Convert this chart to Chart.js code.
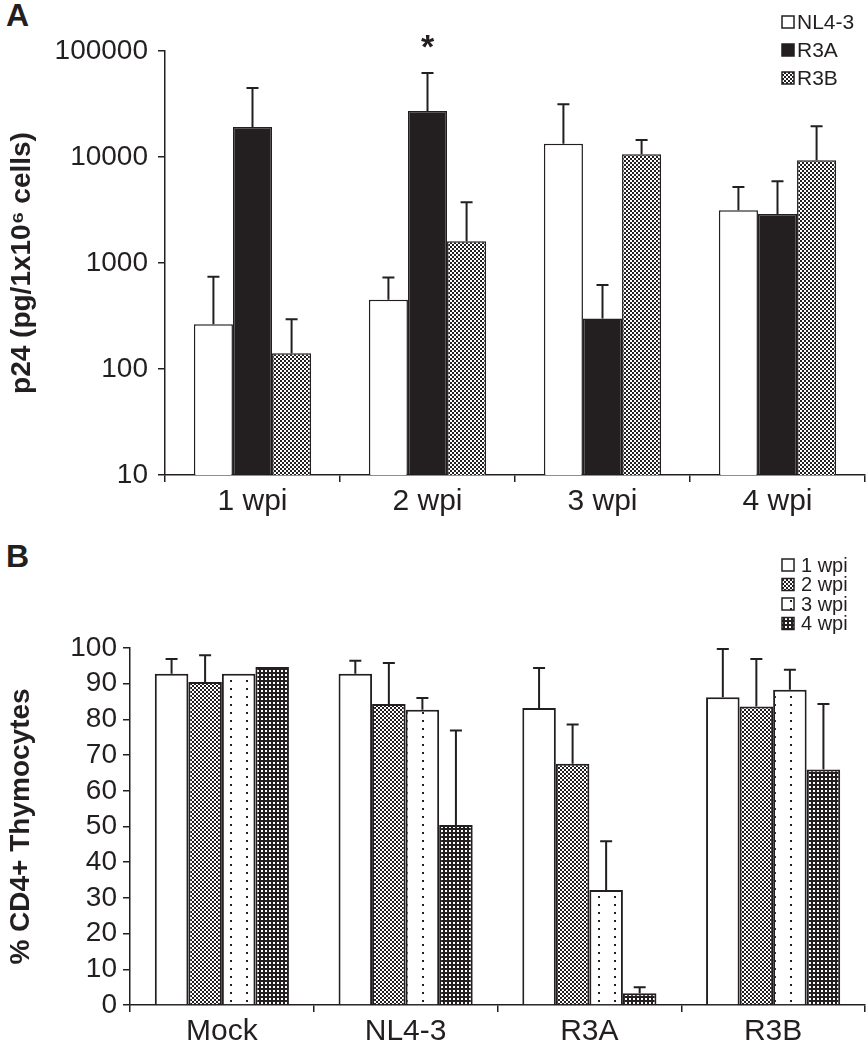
<!DOCTYPE html>
<html>
<head>
<meta charset="utf-8">
<script src="https://cdn.jsdelivr.net/npm/chart.js@4.4.1/dist/chart.umd.min.js"></script>
<style>
    body { margin: 0; background: #fff; width: 868px; height: 1050px; position: relative; overflow: hidden; font-family: "Liberation Sans", Arial, sans-serif; }
    .box { position: absolute; left: 0; width: 868px; height: 525px; }
    .tag { position: absolute; font-weight: bold; font-size: 32px; color: #231f20; }
</style>
</head>
<body>
<div class="tag" style="left:6px; top:-3px;">A</div>
<div class="tag" style="left:6px; top:538px;">B</div>
<div class="box" style="top:0"><canvas id="chartA"></canvas></div>
<div class="box" style="top:525px"><canvas id="chartB"></canvas></div>

<script>
// Panel A: p24 per 1x10^6 cells (log scale), bar value + top of error bar
const weeksA = ['1 wpi', '2 wpi', '3 wpi', '4 wpi'];
const nl43 = [265, 450, 13300, 3150];
const nl43Top = [740, 730, 31500, 5200];
const r3a = [19200, 27200, 300, 2900];
const r3aTop = [44800, 62000, 620, 5900];
const r3b = [141, 1600, 10600, 9300];
const r3bTop = [295, 3750, 14500, 19500];
const ticksA = [10, 100, 1000, 10000, 100000];

// Panel B: % CD4+ thymocytes
const virusesB = ['Mock', 'NL4-3', 'R3A', 'R3B'];
const wpi1 = [92.8, 92.8, 83.2, 86.2];
const wpi1Top = [96.9, 96.4, 94.4, 99.7];
const wpi2 = [90.5, 84.3, 67.6, 83.6];
const wpi2Top = [98.0, 95.8, 78.6, 96.9];
const wpi3 = [92.8, 82.7, 32.2, 88.3];
const wpi3Top = [null, 86.0, 45.9, 93.9];
const wpi4 = [94.7, 50.4, 3.3, 66.0];
const wpi4Top = [null, 76.9, 5.0, 84.3];

const INK = '#231f20';
const FONT = '"Liberation Sans", Arial, sans-serif';

function makePattern(w, h, draw) {
    const c = document.createElement('canvas');
    c.width = w; c.height = h;
    const g = c.getContext('2d');
    draw(g);
    return g.createPattern(c, 'repeat');
}

const checker = makePattern(4, 4, g => {
    g.fillStyle = '#fff'; g.fillRect(0, 0, 4, 4);
    g.fillStyle = INK; g.fillRect(0, 0, 2, 2); g.fillRect(2, 2, 2, 2);
});
const dots = makePattern(16, 8, g => {
    g.fillStyle = '#fff'; g.fillRect(0, 0, 16, 8);
    g.fillStyle = INK; g.fillRect(6, 3, 2, 2);
});
const darkGrid = makePattern(4, 4, g => {
    g.fillStyle = INK; g.fillRect(0, 0, 4, 4);
    g.fillStyle = '#fff'; g.fillRect(1, 1, 2, 2);
});

const errorBars = {
    id: 'errorBars',
    afterDatasetsDraw(chart) {
        const ctx = chart.ctx;
        const y = chart.scales.y;
        ctx.save();
        ctx.strokeStyle = INK;
        ctx.lineWidth = 2;
        chart.data.datasets.forEach((ds, di) => {
            const meta = chart.getDatasetMeta(di);
            meta.data.forEach((bar, i) => {
                const top = ds.errTop[i];
                if (top == null) return;
                const py = y.getPixelForValue(top);
                ctx.beginPath();
                ctx.moveTo(bar.x, bar.y);
                ctx.lineTo(bar.x, py);
                ctx.moveTo(bar.x - 6, py);
                ctx.lineTo(bar.x + 6, py);
                ctx.stroke();
            });
        });
        ctx.restore();
    }
};

const boxLegend = {
    id: 'boxLegend',
    afterDraw(chart, args, opts) {
        const ctx = chart.ctx;
        ctx.save();
        ctx.font = opts.fontSize + 'px ' + FONT;
        ctx.textBaseline = 'middle';
        chart.data.datasets.forEach((ds, i) => {
            const cy = opts.y + i * opts.step;
            ctx.fillStyle = ds.backgroundColor;
            ctx.fillRect(opts.x, cy - 6, 12, 12);
            ctx.strokeStyle = INK;
            ctx.lineWidth = 1.5;
            ctx.strokeRect(opts.x, cy - 6, 12, 12);
            ctx.fillStyle = INK;
            ctx.fillText(ds.label, opts.textX, cy + 1);
        });
        ctx.restore();
    }
};

const starMark = {
    id: 'starMark',
    afterDatasetsDraw(chart) {
        const bar = chart.getDatasetMeta(1).data[1];
        const py = chart.scales.y.getPixelForValue(r3aTop[1]);
        const ctx = chart.ctx;
        ctx.save();
        ctx.font = 'bold 34px ' + FONT;
        ctx.fillStyle = INK;
        ctx.textAlign = 'center';
        ctx.textBaseline = 'middle';
        ctx.fillText('*', bar.x, py - 24);
        ctx.restore();
    }
};

function axisX(height) {
    return {
        grid: { display: true, drawOnChartArea: false, offset: true, tickLength: 7, color: INK, lineWidth: 1.5 },
        border: { display: true, color: INK, width: 1.5 },
        ticks: { color: INK, font: { family: FONT, size: 30 }, padding: 2, maxRotation: 0 },
        afterFit: s => { s.height = height; }
    };
}

new Chart(document.getElementById('chartA'), {
    type: 'bar',
    data: {
        labels: weeksA,
        datasets: [
            { label: 'NL4-3', data: nl43, errTop: nl43Top, backgroundColor: '#fff', borderColor: INK, borderWidth: 1.5 },
            { label: 'R3A', data: r3a, errTop: r3aTop, backgroundColor: INK, borderColor: INK, borderWidth: 1.5 },
            { label: 'R3B', data: r3b, errTop: r3bTop, backgroundColor: checker, borderColor: INK, borderWidth: 1.5 }
        ]
    },
    options: {
        responsive: true,
        maintainAspectRatio: false,
        animation: false,
        layout: { padding: { top: 51, right: 3, left: 0, bottom: 0 } },
        datasets: { bar: { categoryPercentage: 0.67, barPercentage: 1.0 } },
        plugins: {
            legend: { display: false },
            tooltip: { enabled: false },
            boxLegend: { x: 782, textX: 797, y: 22, step: 28, fontSize: 21 }
        },
        scales: {
            x: axisX(50),
            y: {
                type: 'logarithmic',
                min: 10,
                max: 100000,
                afterBuildTicks: s => { s.ticks = ticksA.map(v => ({ value: v })); },
                afterFit: s => { s.width = 165; },
                grid: { display: true, drawOnChartArea: false, tickLength: 7, color: INK, lineWidth: 1.5 },
                border: { display: true, color: INK, width: 1.5 },
                ticks: { color: INK, font: { family: FONT, size: 28 }, padding: 10, autoSkip: false, callback: v => String(v) },
                title: {
                    display: true,
                    text: 'p24 (pg/1x10⁶ cells)',
                    color: INK,
                    font: { family: FONT, size: 28, weight: 'bold' },
                    padding: { top: 5, bottom: 0 }
                }
            }
        }
    },
    plugins: [errorBars, boxLegend, starMark]
});

new Chart(document.getElementById('chartB'), {
    type: 'bar',
    data: {
        labels: virusesB,
        datasets: [
            { label: '1 wpi', data: wpi1, errTop: wpi1Top, backgroundColor: '#fff', borderColor: INK, borderWidth: 2 },
            { label: '2 wpi', data: wpi2, errTop: wpi2Top, backgroundColor: checker, borderColor: INK, borderWidth: 2 },
            { label: '3 wpi', data: wpi3, errTop: wpi3Top, backgroundColor: dots, borderColor: INK, borderWidth: 2 },
            { label: '4 wpi', data: wpi4, errTop: wpi4Top, backgroundColor: darkGrid, borderColor: INK, borderWidth: 2 }
        ]
    },
    options: {
        responsive: true,
        maintainAspectRatio: false,
        animation: false,
        layout: { padding: { top: 123, right: 3, left: 0, bottom: 0 } },
        datasets: { bar: { categoryPercentage: 0.73, barPercentage: 1.0 } },
        plugins: {
            legend: { display: false },
            tooltip: { enabled: false },
            boxLegend: { x: 782, textX: 801, y: 40, step: 19.5, fontSize: 20 }
        },
        scales: {
            x: axisX(45),
            y: {
                min: 0,
                max: 100,
                afterFit: s => { s.width = 130; },
                grid: { display: true, drawOnChartArea: false, tickLength: 7, color: INK, lineWidth: 1.5 },
                border: { display: true, color: INK, width: 1.5 },
                ticks: { color: INK, font: { family: FONT, size: 28 }, padding: 6, stepSize: 10, autoSkip: false },
                title: {
                    display: true,
                    text: '% CD4+ Thymocytes',
                    color: INK,
                    font: { family: FONT, size: 28, weight: 'bold' },
                    padding: { top: 4, bottom: 0 }
                }
            }
        }
    },
    plugins: [errorBars, boxLegend]
});
</script>
</body>
</html>
